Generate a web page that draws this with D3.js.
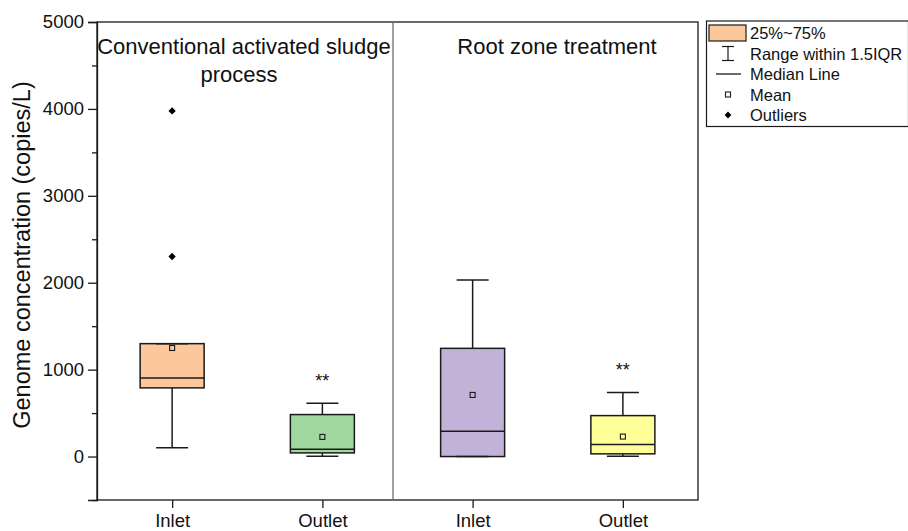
<!DOCTYPE html>
<html>
<head>
<meta charset="utf-8">
<script src="https://cdn.jsdelivr.net/npm/d3@7"></script>
<style>
  html, body { margin: 0; padding: 0; background: #fff; }
  svg { display: block; font-family: "Liberation Sans", Arial, sans-serif; }
</style>
</head>
<body>
<svg id="chart" width="908" height="531"></svg>
<script>
// ---- data ----
const categories = ["Inlet", "Outlet", "Inlet", "Outlet"];
const groupTitles = [["Conventional activated sludge", "process"], ["Root zone treatment"]];
const q1 = [790, 42, 0, 31];
const medians = [904, 84, 291, 138];
const q3 = [1299, 483, 1245, 471];
const whiskerLow = [100, 4, 0, 4];
const whiskerHigh = [1299, 613, 2031, 736];
const means = [1249, 226, 709, 230];
const outliers = [[2302, 3977], [], [], []];
const significance = ["", "**", "", "**"];
const boxColors = ["#FCC89B", "#A0D89F", "#C3B2D7", "#FFFF99"];
const yTicks = [0, 1000, 2000, 3000, 4000, 5000];
const yMinorTicks = [-500, 500, 1500, 2500, 3500, 4500];
const legendLabels = ["25%~75%", "Range within 1.5IQR", "Median Line", "Mean", "Outliers"];

// ---- layout ----
const svg = d3.select("#chart");
const L = 97, R = 698, T = 22, B = 500;
const x = d3.scaleLinear().domain([0.5, 4.5]).range([L, R]);
const y = d3.scaleLinear().domain([-500, 5000]).range([B, T]);
const boxW = 64, capW = 32;
const ink = "#1a1a1a";

// frame
svg.append("rect").attr("x", L).attr("y", T).attr("width", R - L).attr("height", B - T)
  .attr("fill", "none").attr("stroke", ink).attr("stroke-width", 1.3);
// divider between groups
svg.append("line").attr("x1", x(2.47)).attr("x2", x(2.47)).attr("y1", T).attr("y2", B)
  .attr("stroke", "#6e6e6e").attr("stroke-width", 1.3);

// y axis
const yAxis = d3.axisLeft(y).tickValues(yTicks).tickSize(9).tickPadding(4).tickFormat(d3.format("d"));
const gy = svg.append("g").attr("transform", `translate(${L},0)`).call(yAxis);
gy.select(".domain").attr("stroke", ink).attr("stroke-width", 1.3);
gy.selectAll(".tick line").attr("stroke", ink).attr("stroke-width", 1.3);
gy.selectAll(".tick text").attr("font-size", 18.5).attr("fill", "#111").attr("font-family", "Liberation Sans, Arial, sans-serif");
const gym = svg.append("g").attr("transform", `translate(${L},0)`)
  .call(d3.axisLeft(y).tickValues(yMinorTicks).tickSize(5).tickFormat(""));
gym.select(".domain").remove();
gym.selectAll(".tick line").attr("stroke", ink).attr("stroke-width", 1.3);

// x axis
const xAxis = d3.axisBottom(x).tickValues([1, 2, 3, 4]).tickSize(8).tickPadding(6)
  .tickFormat((d) => categories[d - 1]);
const gx = svg.append("g").attr("transform", `translate(0,${B})`).call(xAxis);
gx.select(".domain").remove();
gx.selectAll(".tick line").attr("stroke", ink).attr("stroke-width", 1.3);
gx.selectAll(".tick text").attr("font-size", 18.5).attr("fill", "#111").attr("font-family", "Liberation Sans, Arial, sans-serif");

// y label
svg.append("text").attr("transform", `translate(30,${(T + B) / 2 - 6}) rotate(-90)`)
  .attr("text-anchor", "middle").attr("font-size", 23.5).attr("fill", "#111")
  .text("Genome concentration (copies/L)");

// group titles
const titleX = [[244, 239], [557]];
groupTitles.forEach((lines, gi) => {
  lines.forEach((ln, li) => {
    svg.append("text").attr("x", titleX[gi][li]).attr("y", 54 + li * 28)
      .attr("text-anchor", "middle").attr("font-size", 22).attr("fill", "#111").text(ln);
  });
});

// boxes
const idx = d3.range(categories.length);
const g = svg.append("g");
idx.forEach((i) => {
  const cx = x(i + 1);
  g.append("line").attr("x1", cx).attr("x2", cx).attr("y1", y(q3[i])).attr("y2", y(whiskerHigh[i]))
    .attr("stroke", ink).attr("stroke-width", 1.5);
  g.append("line").attr("x1", cx).attr("x2", cx).attr("y1", y(q1[i])).attr("y2", y(whiskerLow[i]))
    .attr("stroke", ink).attr("stroke-width", 1.5);
  g.append("rect").attr("x", cx - boxW / 2).attr("width", boxW)
    .attr("y", y(q3[i])).attr("height", y(q1[i]) - y(q3[i]))
    .attr("fill", boxColors[i]).attr("stroke", ink).attr("stroke-width", 1.5);
  [whiskerHigh[i], whiskerLow[i]].forEach((v) => {
    g.append("line").attr("x1", cx - capW / 2).attr("x2", cx + capW / 2).attr("y1", y(v)).attr("y2", y(v))
      .attr("stroke", ink).attr("stroke-width", 1.5);
  });
  g.append("line").attr("x1", cx - boxW / 2).attr("x2", cx + boxW / 2).attr("y1", y(medians[i])).attr("y2", y(medians[i]))
    .attr("stroke", ink).attr("stroke-width", 1.5);
  g.append("rect").attr("x", cx - 2.5).attr("y", y(means[i]) - 2.5).attr("width", 5).attr("height", 5)
    .attr("fill", boxColors[i]).attr("stroke", ink).attr("stroke-width", 1.1);
  outliers[i].forEach((v) => {
    g.append("path").attr("d", d3.symbol(d3.symbolDiamond2, 34)())
      .attr("transform", `translate(${cx},${y(v)})`).attr("fill", "#000");
  });
  if (significance[i]) {
    g.append("text").attr("x", cx).attr("y", y(whiskerHigh[i] + 285) + 8)
      .attr("text-anchor", "middle").attr("font-size", 18).attr("fill", "#111").text(significance[i]);
  }
});

// legend
const lg = svg.append("g");
lg.append("rect").attr("x", 706.5).attr("y", 21).attr("width", 202).attr("height", 105.5)
  .attr("fill", "#fff").attr("stroke", ink).attr("stroke-width", 1.2);
const rowY = (k) => 33 + k * 20.5;
const sx = 728;
lg.append("rect").attr("x", 709).attr("y", rowY(0) - 8).attr("width", 37).attr("height", 16)
  .attr("fill", boxColors[0]).attr("stroke", ink).attr("stroke-width", 1.2);
lg.append("line").attr("x1", sx).attr("x2", sx).attr("y1", rowY(1) - 7).attr("y2", rowY(1) + 7).attr("stroke", ink).attr("stroke-width", 1.2);
lg.append("line").attr("x1", sx - 6).attr("x2", sx + 6).attr("y1", rowY(1) - 7).attr("y2", rowY(1) - 7).attr("stroke", ink).attr("stroke-width", 1.2);
lg.append("line").attr("x1", sx - 6).attr("x2", sx + 6).attr("y1", rowY(1) + 7).attr("y2", rowY(1) + 7).attr("stroke", ink).attr("stroke-width", 1.2);
lg.append("line").attr("x1", 716).attr("x2", 741).attr("y1", rowY(2)).attr("y2", rowY(2)).attr("stroke", ink).attr("stroke-width", 1.3);
lg.append("rect").attr("x", sx - 2.5).attr("y", rowY(3) - 2.5).attr("width", 5).attr("height", 5)
  .attr("fill", "#fff").attr("stroke", ink).attr("stroke-width", 1.1);
lg.append("path").attr("d", d3.symbol(d3.symbolDiamond2, 30)()).attr("transform", `translate(${sx},${rowY(4)})`).attr("fill", "#000");
legendLabels.forEach((t, k) => {
  lg.append("text").attr("x", 750).attr("y", rowY(k) + 6).attr("font-size", 16.5).attr("fill", "#111").text(t);
});
</script>
</body>
</html>
